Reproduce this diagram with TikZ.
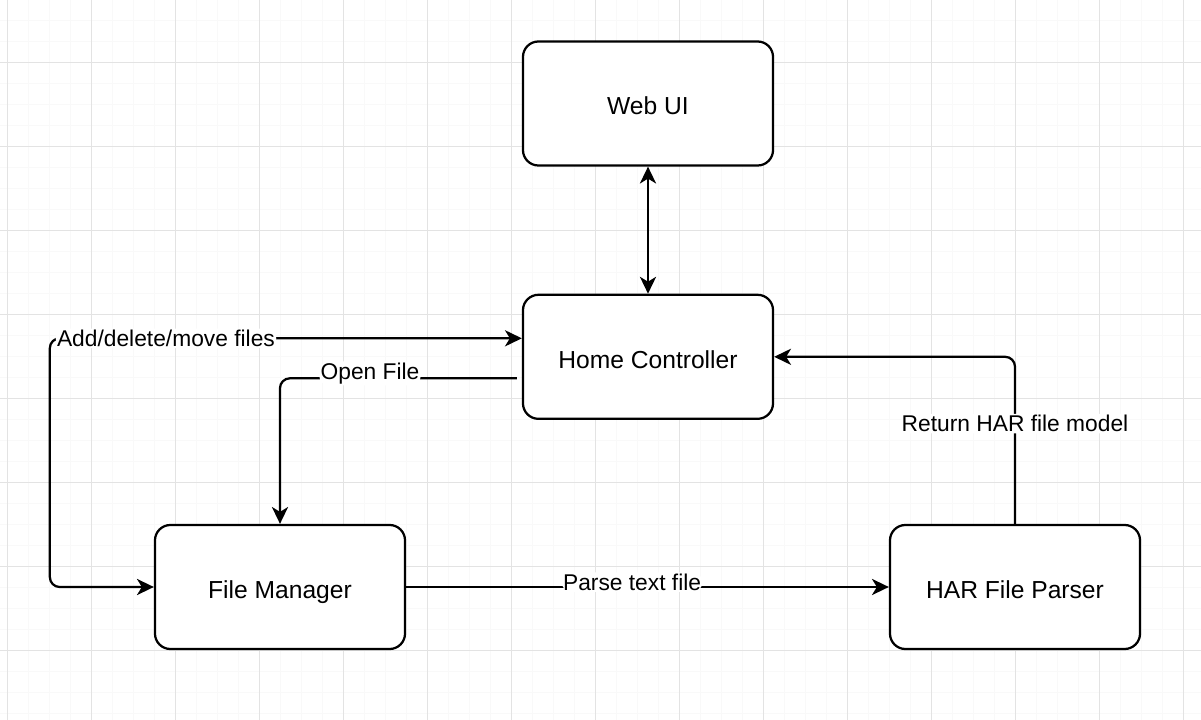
\documentclass[tikz,border=0pt]{standalone}
\usepackage{fontspec}
\setmainfont{Liberation Sans}
\usetikzlibrary{arrows.meta,calc,positioning}

\tikzset{
	box/.style={draw, line width=1.6pt, rounded corners=11pt, fill=white,
		minimum width=6.25cm, minimum height=3.1cm, align=center,
		text height=16pt, text depth=0pt,
		font=\fontsize{17.5}{21}\selectfont},
	link/.style={line width=1.6pt, rounded corners=7pt},
	lbl/.style={fill=white, inner sep=1pt, font=\fontsize{16.2}{19}\selectfont},
	>={Stealth[length=12pt, width=11.5pt, inset=3.5pt]}
}

\begin{document}
\begin{tikzpicture}[x=0.025cm, y=-0.025cm]
			\useasboundingbox (0,0) rectangle (1201,720);
			\fill[white] (0,0) rectangle (1201,720);% background
			
			%	Grid
			\begin{scope}[shift={(7,20)}]
				\draw[gray!5, line width=0.5pt, step=0.525cm] (-7,-20) grid (1194,700);
			\end{scope}
			\begin{scope}[shift={(7,62)}]
				\draw[gray!22, line width=0.7pt, step=2.1cm] (-7,-62) grid (1194,658);
			\end{scope}
			
			%	Components
			\node[box] (webui) at (648,103.5) {Web UI};
			\node[box, below=3.175cm of webui] (home) {Home Controller};
			\node[box] (filemgr) at (280,587) {File Manager};
			\node[box] (parser) at (1015,587) {HAR File Parser};
			
			%	Web UI <-> Home Controller
			\draw[link, <->] (webui) -- (home);
			
			%	Home Controller <-> File Manager
			\draw[link, <->] ($(home.west)+(0,-18.5)$) -- node[lbl, pos=0.754]{Add/delete/move files} ++(-472,0) |- (filemgr.west);
			\draw[link, ->] ($(home.west)+(-5,21.5)$) -| node[lbl, pos=0.31, yshift=3.5pt]{Open File} (filemgr.north);
			
			%	File Manager -> HAR File Parser
			\draw[link, ->] (filemgr.east) -- node[lbl, pos=0.468, yshift=3.5pt]{Parse text file} (parser.west);
			
			%	HAR File Parser -> Home Controller
			\draw[link, ->] (parser.north) |- node[lbl, pos=0.30]{Return HAR file model} (home.east);
\end{tikzpicture}
\end{document}
